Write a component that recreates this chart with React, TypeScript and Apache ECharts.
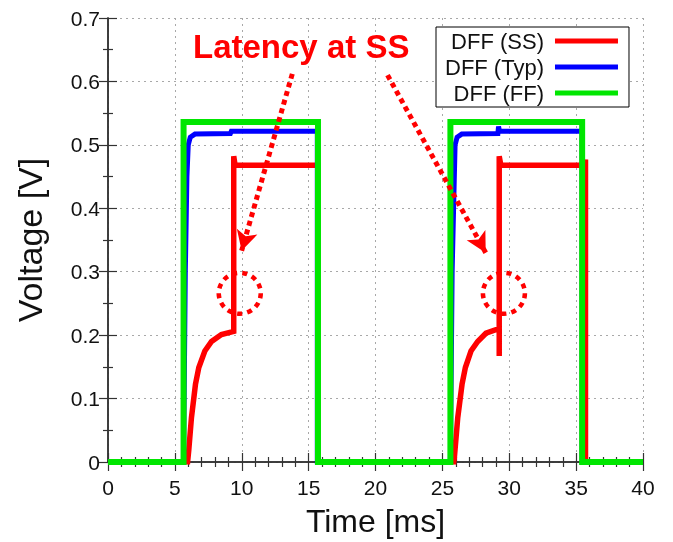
import { useEffect, useRef } from "react";
import * as echarts from "echarts";

const FONT = "'Liberation Sans', Arial, sans-serif";

const seriesNames = ["DFF (SS)", "DFF (Typ)", "DFF (FF)"];
const seriesColors = ["#ff0000", "#0000ff", "#00e600"];

// DFF (SS) waveform
const ssTime = [0, 5.95, 6.04, 6.24, 6.54, 6.79, 7.24, 7.74, 8.48, 9.4, 9.4, 9.5, 15.7, 15.7,
  25.85, 25.9, 26.15, 26.47, 26.72, 27.14, 27.64, 28.26, 29.0, 29.25, 29.25, 29.25, 29.37, 35.65, 35.7, 35.7, 40];
const ssVolt = [0, 0, 0.019, 0.07, 0.1225, 0.149, 0.175, 0.19, 0.201, 0.206, 0.482, 0.468, 0.468, 0,
  0, 0.008, 0.07, 0.1225, 0.149, 0.175, 0.19, 0.203, 0.2086, 0.209, 0.167, 0.482, 0.468, 0.468, 0.477, 0, 0];

// DFF (Typ) waveform
const typTime = [0, 5.65, 5.78, 5.9, 6.0, 6.15, 6.5, 9.15, 9.22, 15.65, 15.65,
  25.6, 25.73, 25.85, 25.95, 26.1, 26.45, 29.15, 29.2, 29.27, 35.45, 35.45, 40];
const typVolt = [0, 0, 0.3, 0.45, 0.5, 0.512, 0.517, 0.518, 0.5215, 0.5215, 0,
  0, 0.3, 0.41, 0.5, 0.512, 0.517, 0.518, 0.529, 0.5215, 0.5215, 0, 0];

// DFF (FF) waveform
const ffTime = [0, 5.65, 5.65, 15.7, 15.7, 25.6, 25.6, 35.45, 35.45, 40];
const ffVolt = [0, 0, 0.536, 0.536, 0, 0, 0.536, 0.536, 0, 0];

// annotations (data coordinates)
const arrowStarts = [[13.78, 0.612], [20.9, 0.61]];
const arrowEnds = [[9.99, 0.333], [28.24, 0.33]];
const circleCenters = [[9.85, 0.266], [29.6, 0.266]];

const zip = (t: number[], v: number[]) => t.map((x, i) => [x, v[i]]);

export default function App() {
  const ref = useRef<HTMLDivElement>(null);
  useEffect(() => {
    const chart = echarts.init(ref.current!, null, { renderer: "svg" });
    const axisLine = { show: true, lineStyle: { color: "#333", width: 1.5 } };
    const tick = { show: true, inside: true, length: 9, lineStyle: { color: "#333", width: 1.2 } };
    const minor = { show: true, splitNumber: 5, length: 5, lineStyle: { color: "#333", width: 1.2 } };
    const minorY = { show: true, splitNumber: 2, length: 5, lineStyle: { color: "#333", width: 1.2 } };
    const split = { show: true, lineStyle: { color: "#a8a8a8", width: 1, type: [2, 4] } };
    const label = { fontSize: 21, color: "#111", fontFamily: FONT };
    const data = [zip(ssTime, ssVolt), zip(typTime, typVolt), zip(ffTime, ffVolt)];
    const widths = [5.5, 5, 6];
    chart.setOption({
      animation: false,
      title: {
        text: "Latency at SS",
        left: 193,
        top: 30,
        padding: 0,
        textStyle: { color: "#ff0000", fontSize: 33, fontWeight: "bold", fontFamily: FONT },
      },
      legend: {
        orient: "vertical",
        align: "right",
        left: 436,
        top: 27,
        padding: [3, 11, 3, 9],
        itemGap: 4,
        itemWidth: 63,
        itemHeight: 5,
        icon: "rect",
        borderColor: "#000",
        borderWidth: 1,
        backgroundColor: "#fff",
        z: 10,
        textStyle: { fontSize: 22, color: "#111", fontFamily: FONT, padding: [0, 6, 0, 0] },
        data: seriesNames,
      },
      grid: { left: 108, top: 18, width: 535, height: 447 },
      xAxis: [
        {
          type: "value",
          min: 0,
          max: 40,
          interval: 5,
          name: "Time [ms]",
          nameLocation: "middle",
          nameGap: 43,
          nameTextStyle: { fontSize: 32, color: "#111", fontFamily: FONT },
          axisLine,
          axisTick: tick,
          minorTick: minor,
          splitLine: split,
          axisLabel: { ...label, margin: 15 },
        },
        {
          type: "value",
          position: "top",
          min: 0,
          max: 40,
          interval: 5,
          axisLine,
          axisTick: tick,
          minorTick: minor,
          splitLine: { show: false },
          axisLabel: { show: false },
        },
      ],
      yAxis: [
        {
          type: "value",
          min: 0,
          max: 0.7,
          interval: 0.1,
          name: "Voltage [V]",
          nameLocation: "middle",
          nameGap: 61,
          nameRotate: 90,
          nameTextStyle: { fontSize: 34, color: "#111", fontFamily: FONT },
          axisLine,
          axisTick: tick,
          minorTick: minorY,
          splitLine: split,
          axisLabel: { ...label, margin: 8, formatter: (v: number) => (v === 0 ? "0" : v.toFixed(1)) },
        },
        {
          type: "value",
          position: "right",
          min: 0,
          max: 0.7,
          interval: 0.1,
          axisLine,
          axisTick: tick,
          minorTick: minorY,
          splitLine: { show: false },
          axisLabel: { show: false },
        },
      ],
      series: seriesNames.map((name, i) => ({
        name,
        type: "line",
        data: data[i],
        showSymbol: false,
        symbol: "none",
        color: seriesColors[i],
        lineStyle: { color: seriesColors[i], width: widths[i], join: "miter" },
        z: 2 + i,
        ...(i === 0
          ? {
              markLine: {
                silent: true,
                symbol: ["none", "arrow"],
                symbolSize: [16, 20],
                label: { show: false },
                lineStyle: { color: "#ff0000", width: 5, type: [5, 4], cap: "butt" },
                data: arrowStarts.map((s, k) => [{ coord: s }, { coord: arrowEnds[k] }]),
              },
              markPoint: {
                silent: true,
                symbol: "circle",
                symbolSize: [42, 41],
                label: { show: false },
                itemStyle: { color: "rgba(0,0,0,0)", borderColor: "#ff0000", borderWidth: 4.5, borderType: [5, 5] },
                data: circleCenters.map((c) => ({ coord: c })),
              },
            }
          : {}),
      })),
    });
    return () => chart.dispose();
  }, []);
  return <div ref={ref} style={{ position: "fixed", left: 0, top: 0, width: 673, height: 542 }} />;
}
